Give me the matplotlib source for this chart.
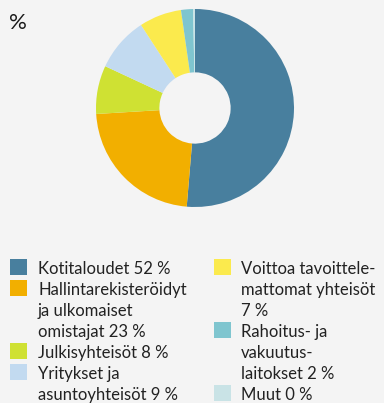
import matplotlib.pyplot as plt
from matplotlib.patches import Rectangle

plt.rcParams['font.family'] = ['Lato', 'DejaVu Sans']

# ownership shares, clockwise from 12 o'clock
names = ["Kotitaloudet", "Hallintarekisteröidyt\nja ulkomaiset\nomistajat",
         "Julkisyhteisöt", "Yritykset ja\nasuntoyhteisöt",
         "Voittoa tavoittele-\nmattomat yhteisöt\n", "Rahoitus- ja\nvakuutus-\nlaitokset",
         "Muut"]
values = [52, 23, 8, 9, 7, 2, 0.3]
shown = ["52", "23", "8", "9", "7", "2", "0"]
colors = ["#487f9e", "#f2af00", "#cfe133", "#c2daf0", "#fbea4d", "#7fc5cf", "#c9e3e6"]

bg = "#f4f4f4"
W, H = 384, 403
fig = plt.figure(figsize=(W / 100, H / 100), dpi=100, facecolor=bg)

# donut
cx, cy, r = 195, 108, 99
ax = fig.add_axes([(cx - r) / W, (H - cy - r) / H, 2 * r / W, 2 * r / H])
ax.set_facecolor(bg)
ax.pie(values, colors=colors, startangle=90, counterclock=False, radius=1,
       wedgeprops=dict(width=0.64, linewidth=0))
ax.set_xlim(-1, 1)
ax.set_ylim(-1, 1)
ax.set_aspect('equal')
ax.axis('off')

# overlay in pixel coordinates for the title and legend
ov = fig.add_axes([0, 0, 1, 1], facecolor='none')
ov.set_xlim(0, W)
ov.set_ylim(H, 0)
ov.axis('off')
ov.text(9, 29, "%", fontsize=16, color="#1a1a1a", va='baseline')

step = 21
cols = [(10, 38, [0, 1, 2, 3]), (214, 241, [4, 5, 6])]
for sx, tx, idx in cols:
    y = 259
    for i in idx:
        ov.add_patch(Rectangle((sx, y), 17, 16, facecolor=colors[i], edgecolor='none'))
        lines = (names[i] + " " + shown[i] + " %").split("\n")
        for k, ln in enumerate(lines):
            ov.text(tx, y + 15 + k * step, ln.strip(), fontsize=12, color="#222222",
                    va='baseline', ha='left')
        y += step * len(lines)

fig.savefig("out.png", dpi=100, facecolor=bg)
